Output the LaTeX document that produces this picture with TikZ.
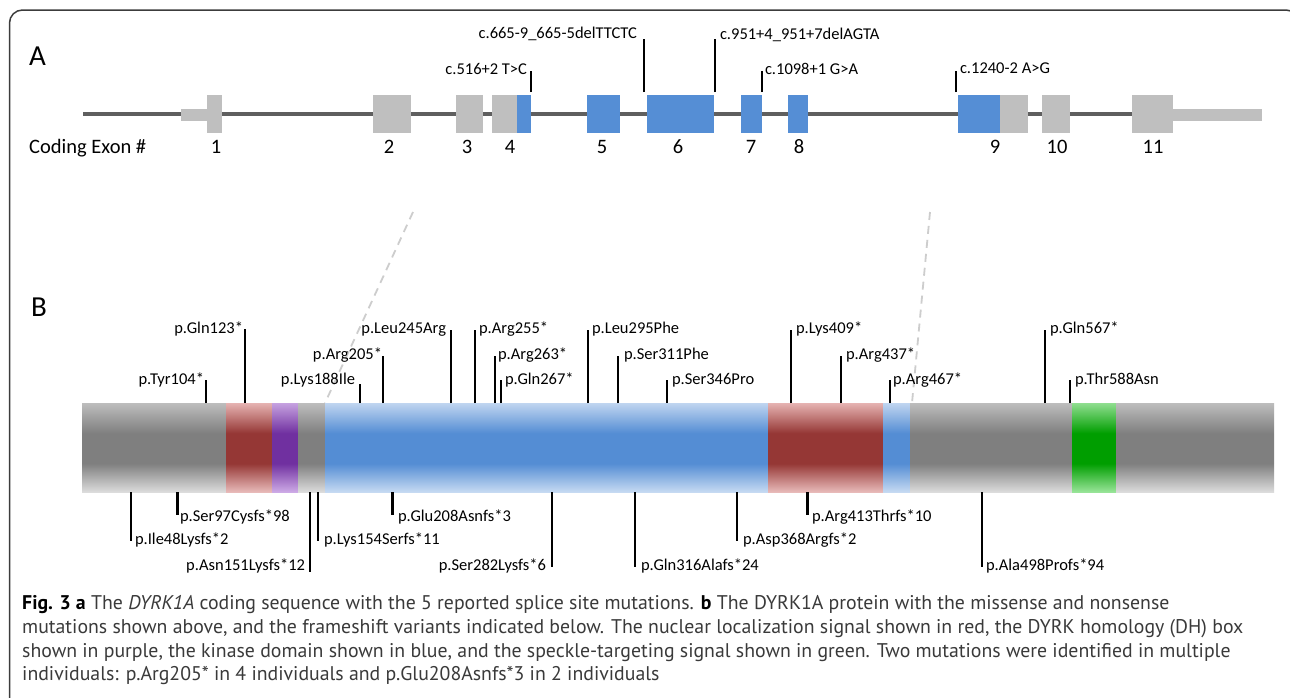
\documentclass[tikz,border=0pt]{standalone}
\usepackage{fontspec}
\setmainfont{Carlito}
\newfontfamily\capfont{PT Sans}

% palette
\definecolor{frameC}{HTML}{3C3C3C}
\definecolor{geneLine}{HTML}{5F5F5F}
\definecolor{exonGray}{HTML}{BFBFBF}
\definecolor{exonBlue}{HTML}{558ED5}
\definecolor{zoomGray}{HTML}{CDCDCD}
\definecolor{capText}{HTML}{3A3A3A}
% band colours (top / middle / bottom)
\definecolor{gTop}{HTML}{BDBDBD}\definecolor{gMid}{HTML}{7F7F7F}\definecolor{gBot}{HTML}{DCDCDC}
\definecolor{bTop}{HTML}{C0D5F0}\definecolor{bMid}{HTML}{548DD4}\definecolor{bBot}{HTML}{C6DAF2}
\definecolor{rTop}{HTML}{E6B3B2}\definecolor{rMid}{HTML}{953735}\definecolor{rBot}{HTML}{E8BAB9}
\definecolor{pTop}{HTML}{C6A2E0}\definecolor{pMid}{HTML}{7030A0}\definecolor{pBot}{HTML}{CDAAE6}
\definecolor{eTop}{HTML}{90DE90}\definecolor{eMid}{HTML}{009E00}\definecolor{eBot}{HTML}{98E498}

% vertical shadings with a flat dark band in the middle
\pgfdeclareverticalshading{barGray}{100bp}{color(0bp)=(gBot); color(25bp)=(gBot); color(41bp)=(gMid); color(58bp)=(gMid); color(75bp)=(gTop); color(100bp)=(gTop)}
\pgfdeclareverticalshading{barBlue}{100bp}{color(0bp)=(bBot); color(25bp)=(bBot); color(41bp)=(bMid); color(58bp)=(bMid); color(75bp)=(bTop); color(100bp)=(bTop)}
\pgfdeclareverticalshading{barRed}{100bp}{color(0bp)=(rBot); color(25bp)=(rBot); color(41bp)=(rMid); color(58bp)=(rMid); color(75bp)=(rTop); color(100bp)=(rTop)}
\pgfdeclareverticalshading{barPurple}{100bp}{color(0bp)=(pBot); color(25bp)=(pBot); color(41bp)=(pMid); color(58bp)=(pMid); color(75bp)=(pTop); color(100bp)=(pTop)}
\pgfdeclareverticalshading{barGreen}{100bp}{color(0bp)=(eBot); color(25bp)=(eBot); color(41bp)=(eMid); color(58bp)=(eMid); color(75bp)=(eTop); color(100bp)=(eTop)}

\tikzset{
  mlabel/.style={inner sep=0pt, outer sep=0pt, font=\fontsize{16.5}{18}\selectfont},
  exonnum/.style={inner sep=0pt, anchor=base, font=\fontsize{20.5}{22}\selectfont},
  panellabel/.style={inner sep=0pt, anchor=base west, font=\fontsize{29}{30}\selectfont},
  captionline/.style={inner sep=0pt, anchor=base west, text=capText, font=\capfont\fontsize{19.8}{24}\selectfont},
  mtick/.style={line width=2pt, black},
  gexon/.style={fill=exonGray},
  bexon/.style={fill=exonBlue},
  zoomline/.style={draw=zoomGray, line width=1.8pt, dash pattern=on 8pt off 6pt},
}

\begin{document}
\begin{tikzpicture}[x=1pt, y=-1pt]
\useasboundingbox (0,0) rectangle (1290,697);
\clip (0,0) rectangle (1290,697);
\fill[white] (0,0) rectangle (1290,697);

% outer frame, open past the lower and right edges
\draw[frameC, line width=1.5pt, rounded corners=13pt] (9.5,10) rectangle (1299,730);

% ---------- panel A: coding exons ----------
\node[panellabel] (labA) at (29,65) {A};
\draw[geneLine, line width=4pt] (83,114) -- (1140,114);
\fill[exonGray] (181,109) rectangle (208,121);
\fill[exonGray] (1170,109) rectangle (1262,121);
\fill[gexon] (207,95) rectangle (222,133);
\fill[gexon] (373,95) rectangle (411,133);
\fill[gexon] (456,95) rectangle (483,133);
\fill[gexon] (492,95) rectangle (530,133);
\fill[bexon] (517,95) rectangle (531,133);
\fill[bexon] (587,95) rectangle (620,133);
\fill[bexon] (647,95) rectangle (714,133);
\fill[bexon] (741,95) rectangle (762,133);
\fill[bexon] (788,95) rectangle (808,133);
\fill[bexon] (958,95) rectangle (1000,133);
\fill[gexon] (1000,95) rectangle (1028,133);
\fill[gexon] (1042,95) rectangle (1070,133);
\fill[gexon] (1132,95) rectangle (1173,133);

\node[inner sep=0pt, anchor=base west, font=\fontsize{20.5}{22}\selectfont] (exlab) at (29,153) {Coding Exon \#};
\foreach \n/\x in {1/216,2/389,3/467,4/510,5/602,6/678,7/751,8/799,9/995,10/1057,11/1153}
  \node[exonnum] (ex\n) at (\x,153) {\n};

% splice-site mutations
\foreach \n/\x/\yt/\yb/\a/\dx/\t in {
  c516/531/71/74/base east/-4/c.516+2 T>C,
  c665/644/39/38/base east/-7/c.665-9\_665-5delTTCTC,
  c951/715/39/39/base west/5/c.951+4\_951+7delAGTA,
  c1098/762/71/74/base west/3/c.1098+1 G>A,
  c1240/956/71/73/base west/4/c.1240-2 A>G}{
  \coordinate (\n-exon) at (\x,92);
  \coordinate (\n-end) at (\x,\yt);
  \draw[mtick] (\n-exon) -- (\n-end);
  \node[mlabel, anchor=\a] (\n) at ({\x+\dx},\yb) {\t};
}

% zoom guides from the coding region to the kinase domain
\coordinate (zoomL-a) at (413,212);
\coordinate (zoomL-b) at (325,403);
\coordinate (zoomR-a) at (930,212);
\coordinate (zoomR-b) at (912,403);
\draw[zoomline] (zoomL-a) -- (zoomL-b);
\draw[zoomline] (zoomR-a) -- (zoomR-b);

% ---------- panel B: protein ----------
\node[panellabel] (labB) at (31,316) {B};
\path[shading=barGray]   (82,403) rectangle (226.5,492);
\path[shading=barRed]    (226,403) rectangle (272.5,492);
\path[shading=barPurple] (272,403) rectangle (298.5,492);
\path[shading=barGray]   (298,403) rectangle (325.5,492);
\path[shading=barBlue]   (325,403) rectangle (768.5,492);
\path[shading=barRed]    (768,403) rectangle (883.5,492);
\path[shading=barBlue]   (883,403) rectangle (910.5,492);
\path[shading=barGray]   (910,403) rectangle (1072.5,492);
\path[shading=barGreen]  (1072,403) rectangle (1116.5,492);
\path[shading=barGray]   (1116,403) rectangle (1274,492);

% missense and nonsense mutations above the protein
\foreach \n/\x/\yt/\yb/\a/\dx/\t in {
  tyr104/206/380/384/base east/-2/p.Tyr104*,
  gln123/245/329/333/base east/-2/p.Gln123*,
  lys188/360/384/384/base east/-5/p.Lys188Ile,
  arg205/383/356/359/base east/-1/p.Arg205*,
  leu245/451/330/333/base east/-5/p.Leu245Arg,
  arg255/475/330/333/base west/4/p.Arg255*,
  arg263/495/356/359/base west/3/p.Arg263*,
  gln267/501/380/384/base west/4/p.Gln267*,
  leu295/588/330/333/base west/4/p.Leu295Phe,
  ser311/618/356/359/base west/6/p.Ser311Phe,
  ser346/667/380/384/base west/5/p.Ser346Pro,
  lys409/791/330/333/base west/5/p.Lys409*,
  arg437/841/356/359/base west/5/p.Arg437*,
  arg467/890/380/384/base west/3/p.Arg467*,
  gln567/1045/330/333/base west/5/p.Gln567*,
  thr588/1070/380/384/base west/5/p.Thr588Asn}{
  \coordinate (\n-bar) at (\x,403);
  \coordinate (\n-end) at (\x,\yt);
  \draw[mtick] (\n-bar) -- (\n-end);
  \node[mlabel, anchor=\a] (\n) at ({\x+\dx},\yb) {\t};
}

% frameshift variants below the protein
\foreach \n/\x/\yt/\yb/\a/\dx/\w/\t in {
  ile48/131/541/544/base west/4/2/p.Ile48Lysfs*2,
  ser97/177/515/521/base west/3/3/p.Ser97Cysfs*98,
  asn151/310/572/570/base east/-5/2/p.Asn151Lysfs*12,
  lys154/318/541/544/base west/6/2/p.Lys154Serfs*11,
  glu208/392/515/521/base west/6/3/p.Glu208Asnfs*3,
  ser282/552/567/570/base east/-6/2/p.Ser282Lysfs*6,
  gln316/635/567/570/base west/6/2/p.Gln316Alafs*24,
  asp368/737/541/544/base west/6/2/p.Asp368Argfs*2,
  arg413/807/515/521/base west/5/3/p.Arg413Thrfs*10,
  ala498/982/567/570/base west/4/2/p.Ala498Profs*94}{
  \coordinate (\n-bar) at (\x,492);
  \coordinate (\n-end) at (\x,\yt);
  \draw[black, line width=\w pt] (\n-bar) -- (\n-end);
  \node[mlabel, anchor=\a] (\n) at ({\x+\dx},\yb) {\t};
}

% ---------- caption ----------
\node[captionline] (cap1) at (22,609) {\textcolor{black}{\textbf{Fig. 3 a}} The \textit{DYRK1A} coding sequence with the 5 reported splice site mutations. \textcolor{black}{\textbf{b}} The DYRK1A protein with the missense and nonsense};
\node[captionline] (cap2) at (22,633) {mutations shown above, and the frameshift variants indicated below. The nuclear localization signal shown in red, the DYRK homology (DH) box};
\node[captionline] (cap3) at (22,657) {shown in purple, the kinase domain shown in blue, and the speckle-targeting signal shown in green. Two mutations were identified in multiple};
\node[captionline] (cap4) at (22,680) {individuals: p.Arg205* in 4 individuals and p.Glu208Asnfs*3 in 2 individuals};
\end{tikzpicture}
\end{document}
